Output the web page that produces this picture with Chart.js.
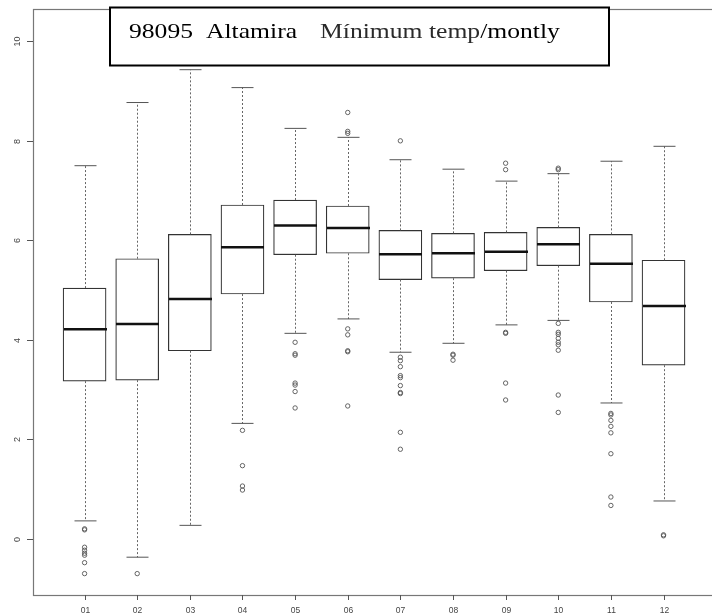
<!DOCTYPE html>
<html>
<head>
<meta charset="utf-8">
<script src="https://cdn.jsdelivr.net/npm/chart.js@4"></script>
<style>
  html, body { margin: 0; padding: 0; background: #fff; overflow: hidden; }
</style>
</head>
<body>
<canvas id="Chart" width="720" height="615"></canvas>
<script>
// monthly minimum temperature, station 98095 Altamira
const months = ['01', '02', '03', '04', '05', '06', '07', '08', '09', '10', '11', '12'];
const lowWhisker  = [0.36, -0.37, 0.27, 2.32, 4.13, 4.42, 3.75, 3.93, 4.30, 4.39, 2.73, 0.76];
const q1          = [3.17, 3.19, 3.78, 4.92, 5.71, 5.74, 5.21, 5.24, 5.39, 5.49, 4.76, 3.49];
const median      = [4.21, 4.32, 4.82, 5.86, 6.30, 6.25, 5.72, 5.74, 5.77, 5.92, 5.53, 4.68];
const q3          = [5.04, 5.63, 6.12, 6.71, 6.81, 6.69, 6.20, 6.14, 6.16, 6.26, 6.12, 5.60];
const highWhisker = [7.50, 8.77, 9.43, 9.07, 8.25, 8.07, 7.62, 7.43, 7.19, 7.34, 7.59, 7.89];
const outliers = [
  [0.20, 0.18, -0.17, -0.23, -0.29, -0.33, -0.48, -0.70],
  [-0.70],
  [],
  [2.18, 1.47, 1.06, 0.98],
  [3.95, 3.72, 3.69, 3.13, 3.09, 2.96, 2.63],
  [8.57, 8.19, 8.15, 4.22, 4.10, 3.78, 3.76, 2.67],
  [8.00, 3.65, 3.58, 3.46, 3.28, 3.24, 3.08, 2.94, 2.92, 2.14, 1.80],
  [3.71, 3.69, 3.59],
  [7.55, 7.42, 4.15, 4.13, 3.13, 2.79],
  [7.45, 7.42, 4.33, 4.15, 4.11, 4.03, 3.95, 3.90, 3.79, 2.89, 2.54],
  [2.52, 2.49, 2.38, 2.26, 2.13, 1.71, 0.84, 0.67],
  [0.08, 0.06]
];
const yTicks = [0, 2, 4, 6, 8, 10];

function line(ctx, x1, y1, x2, y2) {
  ctx.beginPath();
  ctx.moveTo(x1, y1);
  ctx.lineTo(x2, y2);
  ctx.stroke();
}

// whiskers, caps and medians
const boxParts = {
  id: 'boxParts',
  afterDatasetsDraw(chart) {
    const { ctx, scales: { x, y } } = chart;
    const half = 21.5, cap = 11;
    ctx.save();
    months.forEach((m, i) => {
      const px = Math.round(x.getPixelForValue(i + 1)) + 0.5;
      const top = y.getPixelForValue(highWhisker[i]);
      const bot = y.getPixelForValue(lowWhisker[i]);
      ctx.strokeStyle = '#666';
      ctx.lineWidth = 1;
      ctx.setLineDash([2, 2]);
      line(ctx, px, y.getPixelForValue(q3[i]), px, top);
      line(ctx, px, y.getPixelForValue(q1[i]), px, bot);
      ctx.setLineDash([]);
      ctx.strokeStyle = '#555';
      line(ctx, px - cap, top, px + cap, top);
      line(ctx, px - cap, bot, px + cap, bot);
      ctx.strokeStyle = '#111';
      ctx.lineWidth = 2.5;
      const my = y.getPixelForValue(median[i]);
      line(ctx, px - half, my, px + half, my);
    });
    ctx.restore();
  }
};

// frame, axes and the title box
const frame = {
  id: 'frame',
  afterDraw(chart) {
    const { ctx, chartArea: a, scales: { x, y } } = chart;
    ctx.save();
    ctx.strokeStyle = '#777';
    ctx.lineWidth = 1.2;
    ctx.strokeRect(a.left + 0.5, a.top + 0.5, a.right - a.left, a.bottom - a.top);

    ctx.strokeStyle = '#555';
    ctx.lineWidth = 1;
    ctx.fillStyle = '#444';
    ctx.font = '9px "Liberation Sans"';
    ctx.textAlign = 'center';
    ctx.textBaseline = 'middle';
    yTicks.forEach(v => {
      const py = Math.round(y.getPixelForValue(v)) + 0.5;
      line(ctx, a.left - 6, py, a.left, py);
      ctx.save();
      ctx.translate(18, py);
      ctx.rotate(-Math.PI / 2);
      ctx.fillText(String(v), 0, 0);
      ctx.restore();
    });
    ctx.font = '8.5px "Liberation Sans"';
    months.forEach((m, i) => {
      const px = Math.round(x.getPixelForValue(i + 1)) + 0.5;
      line(ctx, px, a.bottom, px, a.bottom + 5);
      ctx.fillText(m, px, 611);
    });

    ctx.fillStyle = '#fff';
    ctx.fillRect(110, 7.5, 499, 58);
    ctx.strokeStyle = '#000';
    ctx.lineWidth = 2;
    ctx.strokeRect(110, 7.5, 499, 58);

    ctx.font = '21px "Liberation Serif"';
    ctx.textAlign = 'left';
    ctx.textBaseline = 'alphabetic';
    const sx = 1.22;
    const piece = (text, px, color) => {
      ctx.save();
      ctx.fillStyle = color;
      ctx.translate(px, 37.5);
      ctx.scale(sx, 1);
      ctx.fillText(text, 0, 0);
      ctx.restore();
      return px + ctx.measureText(text).width * sx;
    };
    piece('98095', 129, '#000');
    piece('Altamira', 206, '#000');
    const end = piece('Mínimum temp', 320, '#2a2a2a');
    piece('/montly', end, '#000');
    ctx.restore();
  }
};

new Chart(document.getElementById('Chart'), {
  type: 'bar',
  data: {
    datasets: [{
      type: 'bar',
      data: months.map((m, i) => ({ x: i + 1, y: [q1[i], q3[i]] })),
      backgroundColor: '#fff',
      borderColor: '#333',
      borderWidth: 1.2,
      borderSkipped: false,
      barThickness: 43
    }, {
      type: 'scatter',
      data: outliers.flatMap((list, i) => list.map(v => ({ x: i + 1, y: v }))),
      pointStyle: 'circle',
      pointRadius: 2.2,
      borderColor: '#555',
      borderWidth: 0.9,
      backgroundColor: 'rgba(0,0,0,0)'
    }]
  },
  options: {
    responsive: false,
    animation: false,
    events: [],
    layout: { padding: { left: 33, top: 9, right: 1, bottom: 20 } },
    scales: {
      x: { type: 'linear', min: 0.02, max: 12.98, offset: false, display: false },
      y: { min: -1.13, max: 10.65, display: false }
    },
    plugins: {
      legend: { display: false },
      tooltip: { enabled: false }
    }
  },
  plugins: [boxParts, frame]
});
</script>
</body>
</html>
